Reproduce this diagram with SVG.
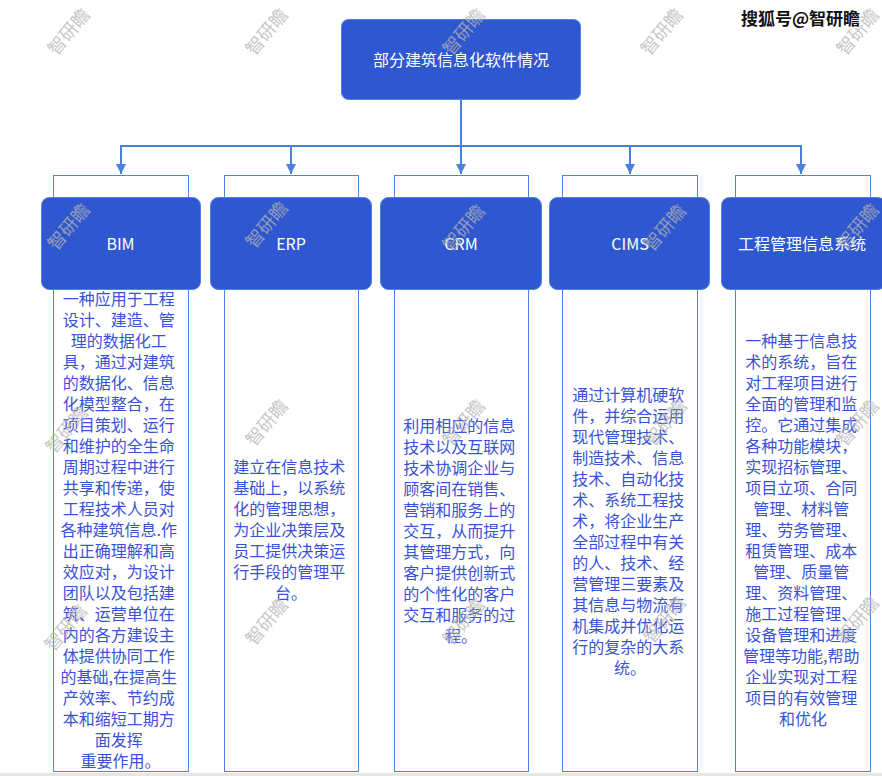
<svg xmlns="http://www.w3.org/2000/svg" width="882" height="776" viewBox="0 0 882 776">
<style>
.bg{fill:#ffffff}
.box{fill:#2f57cf;stroke:#4d82e4;stroke-width:1}
.col{fill:#ffffff;stroke:#4a86e8;stroke-width:1}
.hd{font-family:"Noto Sans CJK SC","Noto Sans",sans-serif;font-size:16px;fill:#ffffff;text-anchor:middle}
.tx{font-family:"Noto Sans CJK SC","Noto Sans",sans-serif;font-size:16px;fill:#3a52d8;text-anchor:middle}
.wm{font-family:"Noto Sans CJK SC",sans-serif;font-size:18px;fill:#b4b4b4;opacity:0.75;text-anchor:middle}
.ln{fill:none;stroke:#4a7fdb;stroke-width:2}
.mark{font-family:"Noto Sans CJK SC",sans-serif;font-size:17px;font-weight:bold;fill:#111111;stroke:#ffffff;stroke-width:3;paint-order:stroke;stroke-linejoin:round}
</style>
<defs>
<marker id="arr" viewBox="0 0 10 10" refX="10" refY="5" markerWidth="5" markerHeight="5" orient="auto" markerUnits="strokeWidth">
<path d="M0,0 L10,5 L0,10 z" fill="#4a7fdb"/>
</marker>
</defs>
<rect class="bg" x="0" y="0" width="882" height="776"/>
<rect x="0" y="773" width="882" height="3" fill="#e6e6e6"/>

<g id="connectors">
<path class="ln" d="M461,99 V146"/>
<path class="ln" d="M120,146 H802"/>
<path class="ln" d="M121,146 V174" marker-end="url(#arr)"/>
<path class="ln" d="M291,146 V174" marker-end="url(#arr)"/>
<path class="ln" d="M461,146 V174" marker-end="url(#arr)"/>
<path class="ln" d="M630,146 V174" marker-end="url(#arr)"/>
<path class="ln" d="M801,146 V174" marker-end="url(#arr)"/>
</g>

<g id="root">
<rect class="box" x="341.5" y="19.5" width="239" height="80" rx="7"/>
<text class="hd" x="461" y="66">部分建筑信息化软件情况</text>
</g>

<g id="bim">
<rect class="col" x="53.5" y="175.5" width="135" height="596"/>
<rect class="box" x="41.5" y="197.5" width="159" height="92" rx="8"/>
<text class="hd" x="120.5" y="250">BIM</text>
<text class="tx" x="120.5" y="305">
<tspan x="120.5" dy="0">一种应用于工程</tspan>
<tspan x="120.5" dy="21">设计、建造、管</tspan>
<tspan x="120.5" dy="21">理的数据化工</tspan>
<tspan x="120.5" dy="21">具，通过对建筑</tspan>
<tspan x="120.5" dy="21">的数据化、信息</tspan>
<tspan x="120.5" dy="21">化模型整合，在</tspan>
<tspan x="120.5" dy="21">项目策划、运行</tspan>
<tspan x="120.5" dy="21">和维护的全生命</tspan>
<tspan x="120.5" dy="21">周期过程中进行</tspan>
<tspan x="120.5" dy="21">共享和传递，使</tspan>
<tspan x="120.5" dy="21">工程技术人员对</tspan>
<tspan x="120.5" dy="21">各种建筑信息.作</tspan>
<tspan x="120.5" dy="21">出正确理解和高</tspan>
<tspan x="120.5" dy="21">效应对，为设计</tspan>
<tspan x="120.5" dy="21">团队以及包括建</tspan>
<tspan x="120.5" dy="21">筑、运营单位在</tspan>
<tspan x="120.5" dy="21">内的各方建设主</tspan>
<tspan x="120.5" dy="21">体提供协同工作</tspan>
<tspan x="120.5" dy="21">的基础,在提高生</tspan>
<tspan x="120.5" dy="21">产效率、节约成</tspan>
<tspan x="120.5" dy="21">本和缩短工期方</tspan>
<tspan x="120.5" dy="21">面发挥</tspan>
<tspan x="120.5" dy="21">重要作用。</tspan>
</text>
</g>

<g id="erp">
<rect class="col" x="224.5" y="175.5" width="134" height="596"/>
<rect class="box" x="210.5" y="197.5" width="161" height="92" rx="8"/>
<text class="hd" x="291" y="250">ERP</text>
<text class="tx" x="291" y="473">
<tspan x="291" dy="0">建立在信息技术</tspan>
<tspan x="291" dy="21">基础上，以系统</tspan>
<tspan x="291" dy="21">化的管理思想，</tspan>
<tspan x="291" dy="21">为企业决策层及</tspan>
<tspan x="291" dy="21">员工提供决策运</tspan>
<tspan x="291" dy="21">行手段的管理平</tspan>
<tspan x="291" dy="21">台。</tspan>
</text>
</g>

<g id="crm">
<rect class="col" x="394.5" y="175.5" width="134" height="596"/>
<rect class="box" x="380.5" y="197.5" width="161" height="92" rx="8"/>
<text class="hd" x="461" y="250">CRM</text>
<text class="tx" x="461" y="432">
<tspan x="461" dy="0">利用相应的信息</tspan>
<tspan x="461" dy="21">技术以及互联网</tspan>
<tspan x="461" dy="21">技术协调企业与</tspan>
<tspan x="461" dy="21">顾客间在销售、</tspan>
<tspan x="461" dy="21">营销和服务上的</tspan>
<tspan x="461" dy="21">交互，从而提升</tspan>
<tspan x="461" dy="21">其管理方式，向</tspan>
<tspan x="461" dy="21">客户提供创新式</tspan>
<tspan x="461" dy="21">的个性化的客户</tspan>
<tspan x="461" dy="21">交互和服务的过</tspan>
<tspan x="461" dy="21">程。</tspan>
</text>
</g>

<g id="cims">
<rect class="col" x="562.5" y="175.5" width="135" height="596"/>
<rect class="box" x="549.5" y="197.5" width="160" height="92" rx="8"/>
<text class="hd" x="630" y="250">CIMS</text>
<text class="tx" x="630" y="401">
<tspan x="630" dy="0">通过计算机硬软</tspan>
<tspan x="630" dy="21">件，并综合运用</tspan>
<tspan x="630" dy="21">现代管理技术、</tspan>
<tspan x="630" dy="21">制造技术、信息</tspan>
<tspan x="630" dy="21">技术、自动化技</tspan>
<tspan x="630" dy="21">术、系统工程技</tspan>
<tspan x="630" dy="21">术，将企业生产</tspan>
<tspan x="630" dy="21">全部过程中有关</tspan>
<tspan x="630" dy="21">的人、技术、经</tspan>
<tspan x="630" dy="21">营管理三要素及</tspan>
<tspan x="630" dy="21">其信息与物流有</tspan>
<tspan x="630" dy="21">机集成并优化运</tspan>
<tspan x="630" dy="21">行的复杂的大系</tspan>
<tspan x="630" dy="21">统。</tspan>
</text>
</g>

<g id="pmis">
<rect class="col" x="735.5" y="175.5" width="135" height="596"/>
<rect class="box" x="721.5" y="197.5" width="164" height="92" rx="8"/>
<text class="hd" x="802" y="250">工程管理信息系统</text>
<text class="tx" x="803" y="347">
<tspan x="803" dy="0">一种基于信息技</tspan>
<tspan x="803" dy="21">术的系统，旨在</tspan>
<tspan x="803" dy="21">对工程项目进行</tspan>
<tspan x="803" dy="21">全面的管理和监</tspan>
<tspan x="803" dy="21">控。它通过集成</tspan>
<tspan x="803" dy="21">各种功能模块，</tspan>
<tspan x="803" dy="21">实现招标管理、</tspan>
<tspan x="803" dy="21">项目立项、合同</tspan>
<tspan x="803" dy="21">管理、材料管</tspan>
<tspan x="803" dy="21">理、劳务管理、</tspan>
<tspan x="803" dy="21">租赁管理、成本</tspan>
<tspan x="803" dy="21">管理、质量管</tspan>
<tspan x="803" dy="21">理、资料管理、</tspan>
<tspan x="803" dy="21">施工过程管理、</tspan>
<tspan x="803" dy="21">设备管理和进度</tspan>
<tspan x="803" dy="21">管理等功能,帮助</tspan>
<tspan x="803" dy="21">企业实现对工程</tspan>
<tspan x="803" dy="21">项目的有效管理</tspan>
<tspan x="803" dy="21">和优化</tspan>
</text>
</g>

<g id="watermarks">
<text class="wm" transform="translate(69,32) rotate(-50)" y="6">智研瞻</text>
<text class="wm" transform="translate(267,32) rotate(-50)" y="6">智研瞻</text>
<text class="wm" transform="translate(464,32) rotate(-50)" y="6">智研瞻</text>
<text class="wm" transform="translate(662,32) rotate(-50)" y="6">智研瞻</text>
<text class="wm" transform="translate(858,32) rotate(-50)" y="6">智研瞻</text>
<text class="wm" transform="translate(69,227) rotate(-50)" y="6">智研瞻</text>
<text class="wm" transform="translate(267,225) rotate(-50)" y="6">智研瞻</text>
<text class="wm" transform="translate(464,228) rotate(-50)" y="6">智研瞻</text>
<text class="wm" transform="translate(665,228) rotate(-50)" y="6">智研瞻</text>
<text class="wm" transform="translate(858,227) rotate(-50)" y="6">智研瞻</text>
<text class="wm" transform="translate(67,430) rotate(-50)" y="6">智研瞻</text>
<text class="wm" transform="translate(267,423) rotate(-50)" y="6">智研瞻</text>
<text class="wm" transform="translate(464,423) rotate(-50)" y="6">智研瞻</text>
<text class="wm" transform="translate(666,423) rotate(-50)" y="6">智研瞻</text>
<text class="wm" transform="translate(858,423) rotate(-50)" y="6">智研瞻</text>
<text class="wm" transform="translate(66,628) rotate(-50)" y="6">智研瞻</text>
<text class="wm" transform="translate(267,622) rotate(-50)" y="6">智研瞻</text>
<text class="wm" transform="translate(464,622) rotate(-50)" y="6">智研瞻</text>
<text class="wm" transform="translate(665,620) rotate(-50)" y="6">智研瞻</text>
<text class="wm" transform="translate(858,620) rotate(-50)" y="6">智研瞻</text>
</g>

<text class="mark" x="741" y="25">搜狐号@智研瞻</text>
</svg>
